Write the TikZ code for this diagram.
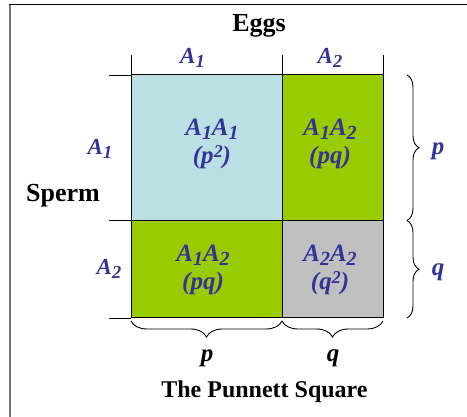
\documentclass[tikz,border=0pt]{standalone}
\usepackage{fontspec}
\setmainfont{Liberation Serif}
\usetikzlibrary{decorations.pathreplacing}
\definecolor{lblue}{HTML}{333399}
\definecolor{cellblue}{HTML}{BAE0E3}
\definecolor{cellgreen}{HTML}{99CC00}
\definecolor{cellgray}{HTML}{C0C0C0}
\newcommand\sbs[1]{\raisebox{-0.32ex}{\scalebox{0.8}{#1}}}
\newcommand\sps[1]{\raisebox{0.55ex}{\scalebox{0.72}{#1}}}
\begin{document}
\begin{tikzpicture}[x=1pt,y=-1pt,
  celltxt/.style={font=\fontsize{25}{28}\selectfont\bfseries\itshape, text=lblue, align=center, inner sep=0pt},
  axlbl/.style={font=\fontsize{23}{26}\selectfont\bfseries\itshape, text=lblue, inner sep=0pt},
  freqlbl/.style={font=\fontsize{25}{28}\selectfont\bfseries\itshape, inner sep=0pt},
  title/.style={font=\fontsize{26}{28}\selectfont\bfseries, inner sep=0pt},
  cell/.style={draw=black, line width=1pt},
  tick/.style={draw=black, line width=0.9pt},
  bracestyle/.style={draw=black, line width=0.9pt, decorate, decoration={brace, amplitude=#1}}
]
\useasboundingbox (0,0) rectangle (467,417);
% frame
\draw[line width=1.6pt, black!55] (10,4) -- (10,417);
\draw[line width=1.3pt, black] (9.2,4.5) -- (467,4.5);
% cells
\fill[cellblue] (131,75) rectangle (282,220.5);
\fill[cellgreen] (282,75) rectangle (383,220.5);
\fill[cellgreen] (131,220.5) rectangle (282,318);
\fill[cellgray] (282,220.5) rectangle (383,318);
\draw[cell] (131,75) rectangle (383,318);
\draw[cell] (282,75) -- (282,318);
\draw[cell] (131,220.5) -- (383,220.5);
% ticks
\draw[tick] (131,55) -- (131,75);
\draw[tick] (282,55) -- (282,75);
\draw[tick] (383,55) -- (383,75);
\draw[tick] (109,75) -- (131,75);
\draw[tick] (109,220.5) -- (131,220.5);
\draw[tick] (109,318) -- (131,318);
% titles
\node[title] (eggs) at (259,26) {Eggs};
\node[title] (sperm) at (63,196) {Sperm};
\node[title, font=\fontsize{24}{28}\selectfont\bfseries] (ttl) at (264.5,392) {The Punnett Square};
% axis labels
\node[axlbl] (t1) at (192.5,58) {A\sbs{1}};
\node[axlbl] (t2) at (330,58) {A\sbs{2}};
\node[axlbl] (l1) at (100,149) {A\sbs{1}};
\node[axlbl] (l2) at (109,269) {A\sbs{2}};
% cells text
\node[celltxt] (c11) at (212,144) {A\sbs{1}A\sbs{1}\\(p\sps{2})};
\node[celltxt] (c12) at (330,144) {A\sbs{1}A\sbs{2}\\(pq)};
\node[celltxt] (c21) at (203,270) {A\sbs{1}A\sbs{2}\\(pq)};
\node[celltxt] (c22) at (330,270) {A\sbs{2}A\sbs{2}\\(q\sps{2})};
% braces
\coordinate (r1) at (407,75);
\coordinate (r2) at (407,220.5);
\coordinate (r3) at (407,318);
\draw[bracestyle=12] (r1) -- (r2);
\draw[bracestyle=12] (r2) -- (r3);
\coordinate (b1) at (131,321);
\coordinate (b2) at (282,321);
\coordinate (b3) at (383,321);
\draw[bracestyle=16] (b2) -- (b1);
\draw[bracestyle=16] (b3) -- (b2);
% frequency labels
\node[freqlbl, text=lblue] (rp) at (438,151) {p};
\node[freqlbl, text=lblue] (rq) at (438,272) {q};
\node[freqlbl] (bp) at (207,358) {p};
\node[freqlbl] (bq) at (333,358) {q};
\end{tikzpicture}
\end{document}
